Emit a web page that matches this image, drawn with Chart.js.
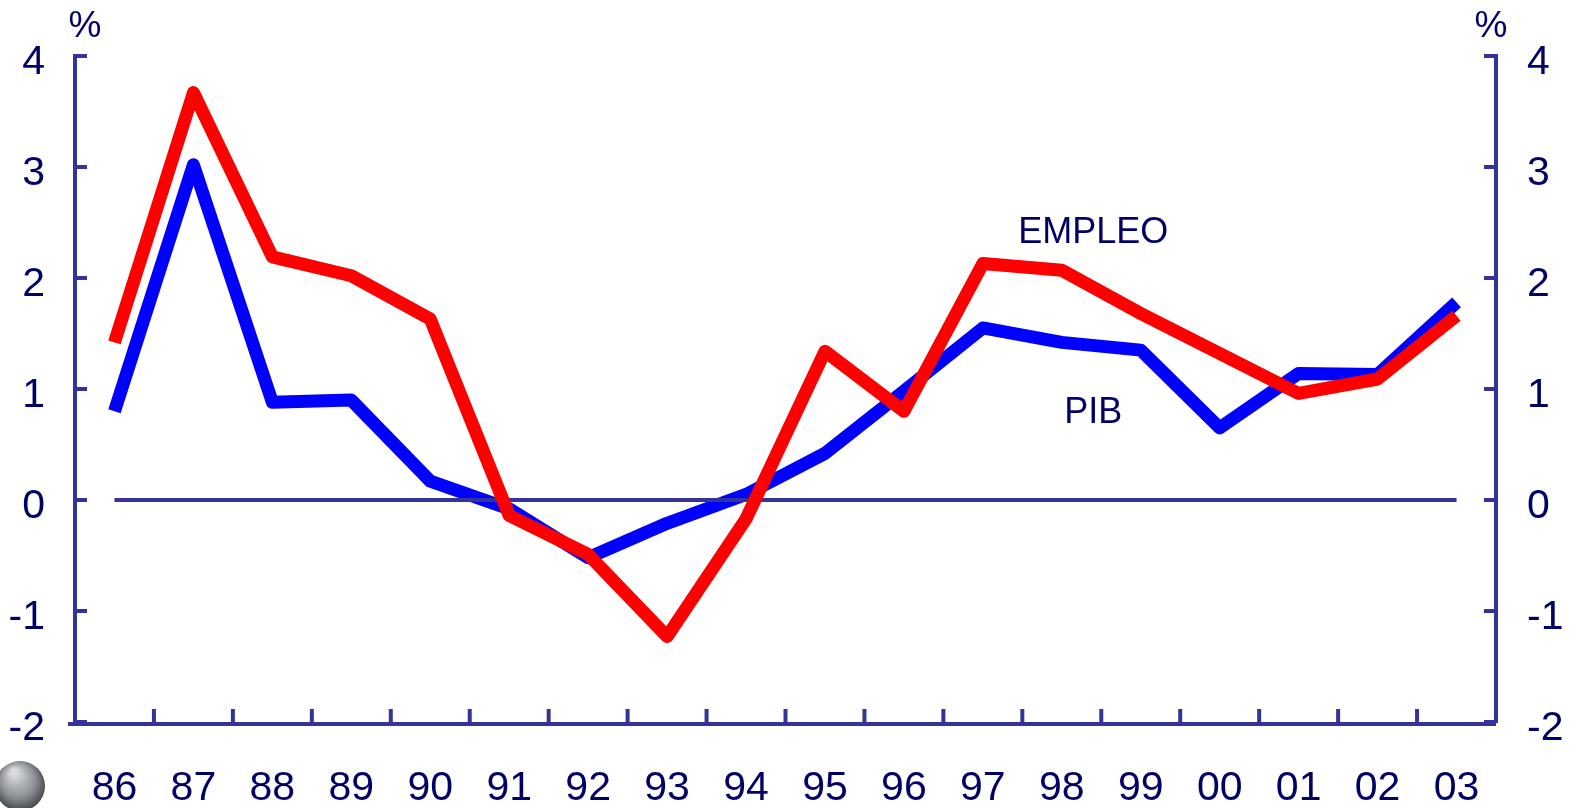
<!DOCTYPE html>
<html>
<head>
<meta charset="utf-8">
<script src="https://cdn.jsdelivr.net/npm/chart.js@4"></script>
<style>
  html, body { margin: 0; padding: 0; background: #ffffff; }
  #wrap { position: relative; width: 1576px; height: 808px; }
</style>
</head>
<body>
<div id="wrap"><canvas id="c"></canvas></div>
<script>
// ---- data ----
const years = ['86','87','88','89','90','91','92','93','94','95','96','97','98','99','00','01','02','03'];
const empleo = [1.42, 3.67, 2.19, 2.02, 1.63, -0.14, -0.49, -1.23, -0.17, 1.34, 0.80, 2.13, 2.07, 1.68, 1.32, 0.96, 1.09, 1.66];
const pib    = [0.80, 3.02, 0.88, 0.90, 0.17, -0.08, -0.52, -0.21, 0.05, 0.42, 0.98, 1.55, 1.42, 1.35, 0.65, 1.14, 1.13, 1.78];
const yTicks = [-2, -1, 0, 1, 2, 3, 4];
const seriesNames = ['EMPLEO', 'PIB'];
const unitLabel = '%';

const AXIS = '#333399';
const TEXT = '#000066';
const FONT = 'Liberation Sans, Arial, sans-serif';

const decor = {
  id: 'decor',
  afterDraw(chart) {
    const ctx = chart.ctx;
    const x = chart.scales.x, y = chart.scales.y, y2 = chart.scales.y2;
    const area = chart.chartArea;
    ctx.save();
    ctx.strokeStyle = AXIS;
    ctx.lineWidth = 4;
    ctx.lineCap = 'butt';
    // y ticks (inside)
    yTicks.forEach(v => {
      const py = y.getPixelForValue(v);
      ctx.beginPath(); ctx.moveTo(area.left, py); ctx.lineTo(area.left + 12, py); ctx.stroke();
      const py2 = y2.getPixelForValue(v);
      ctx.beginPath(); ctx.moveTo(area.right, py2); ctx.lineTo(area.right - 12, py2); ctx.stroke();
    });
    // x ticks at category boundaries (inside)
    for (let i = 0; i < years.length - 1; i++) {
      const px = (x.getPixelForValue(i) + x.getPixelForValue(i + 1)) / 2;
      ctx.beginPath(); ctx.moveTo(px, area.bottom); ctx.lineTo(px, area.bottom - 13); ctx.stroke();
    }
    // extended bottom axis line
    ctx.beginPath(); ctx.moveTo(area.left - 7, area.bottom + 2); ctx.lineTo(area.right, area.bottom + 2); ctx.stroke();
    // unit labels
    ctx.fillStyle = TEXT;
    ctx.font = '37px ' + FONT;
    ctx.textAlign = 'center';
    ctx.textBaseline = 'alphabetic';
    ctx.fillText(unitLabel, area.left + 10, 37);
    ctx.fillText(unitLabel, area.right - 5, 37);
    // series labels
    ctx.font = '36px ' + FONT;
    const lx = (x.getPixelForValue(12) + x.getPixelForValue(13)) / 2 - 8;
    ctx.fillText(seriesNames[0], lx, 243);
    ctx.fillText(seriesNames[1], lx, 423);
    // logo-like grey sphere bottom-left
    const g = ctx.createRadialGradient(14, 772, 3, 20, 785, 28);
    g.addColorStop(0, '#d8dadc');
    g.addColorStop(0.6, '#8a8e92');
    g.addColorStop(1, '#3a3d40');
    ctx.fillStyle = g;
    ctx.beginPath(); ctx.arc(20, 786, 25, 0, Math.PI * 2); ctx.fill();
    ctx.restore();
  }
};

const zeroLine = {
  id: 'zeroLine',
  afterDatasetDraw(chart, args) {
    if (args.index !== 2) return; // after PIB (drawn first), before EMPLEO
    const ctx = chart.ctx;
    const x = chart.scales.x, y = chart.scales.y;
    const py = y.getPixelForValue(0);
    ctx.save();
    ctx.strokeStyle = AXIS;
    ctx.lineWidth = 4;
    ctx.beginPath();
    ctx.moveTo(x.getPixelForValue(0), py);
    ctx.lineTo(x.getPixelForValue(years.length - 1), py);
    ctx.stroke();
    ctx.restore();
  }
};

new Chart(document.getElementById('c'), {
  type: 'line',
  data: {
    labels: years,
    datasets: [
      { label: seriesNames[0], data: empleo, borderColor: '#ff0000', borderWidth: 13,
        pointRadius: 0, tension: 0, borderJoinStyle: 'round', borderCapStyle: 'butt', yAxisID: 'y' },
      { label: 'cero', data: [], borderWidth: 0, pointRadius: 0, yAxisID: 'y' },
      { label: seriesNames[1], data: pib, borderColor: '#0000ff', borderWidth: 13,
        pointRadius: 0, tension: 0, borderJoinStyle: 'round', borderCapStyle: 'butt', yAxisID: 'y' }
    ]
  },
  options: {
    responsive: true,
    maintainAspectRatio: false,
    animation: false,
    layout: { padding: { top: 56, left: 0, right: 0, bottom: 0 } },
    plugins: { legend: { display: false }, tooltip: { enabled: false } },
    scales: {
      x: {
        type: 'category',
        offset: true,
        grid: { display: true, drawOnChartArea: false, drawTicks: false, offset: true },
        border: { display: false },
        ticks: { color: TEXT, font: { family: FONT, size: 41 }, padding: 42, autoSkip: false, maxRotation: 0 },
        afterFit(s) { s.height = 86; }
      },
      y: {
        position: 'left',
        min: -2, max: 4,
        grid: { display: true, drawOnChartArea: false, drawTicks: false },
        border: { display: true, color: AXIS, width: 4 },
        ticks: { stepSize: 1, color: TEXT, font: { family: FONT, size: 41 }, padding: 30, labelOffset: 7 },
        afterFit(s) { s.width = 75; }
      },
      y2: {
        position: 'right',
        min: -2, max: 4,
        grid: { display: true, drawOnChartArea: false, drawTicks: false },
        border: { display: true, color: AXIS, width: 4 },
        ticks: { stepSize: 1, color: TEXT, font: { family: FONT, size: 41 }, padding: 31, labelOffset: 7 },
        afterFit(s) { s.width = 80; }
      }
    }
  },
  plugins: [zeroLine, decor]
});
</script>
</body>
</html>
